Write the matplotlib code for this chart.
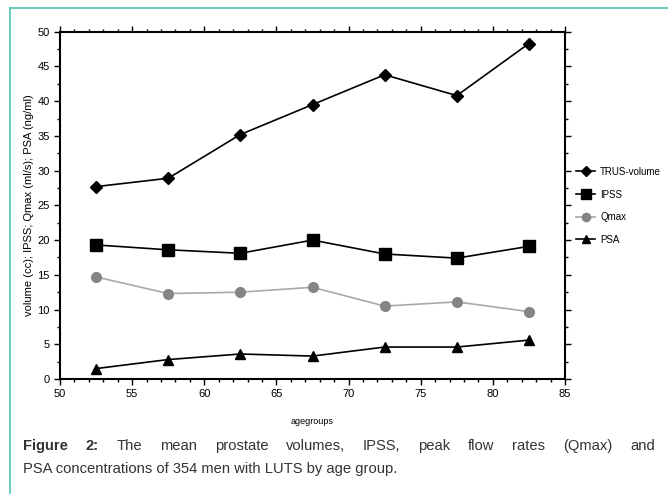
import matplotlib.pyplot as plt
from matplotlib.lines import Line2D
from matplotlib.ticker import MultipleLocator

plt.rcParams['font.family'] = ['Liberation Sans', 'DejaVu Sans']

# data
age = [52.5, 57.5, 62.5, 67.5, 72.5, 77.5, 82.5]
trus = [27.7, 28.9, 35.2, 39.5, 43.8, 40.8, 48.3]
ipss = [19.3, 18.6, 18.1, 20.0, 18.0, 17.4, 19.1]
qmax = [14.7, 12.3, 12.5, 13.2, 10.5, 11.1, 9.7]
psa = [1.5, 2.8, 3.6, 3.3, 4.6, 4.6, 5.6]

W, H = 668, 497
fig = plt.figure(figsize=(W / 100, H / 100), dpi=100)
ax = fig.add_axes([60 / W, 1 - 379 / H, 505 / W, 347.3 / H])

ax.plot(age, trus, color='black', lw=1.2, marker='D', ms=6.5, label='TRUS-volume')
ax.plot(age, ipss, color='black', lw=1.2, marker='s', ms=8, label='IPSS')
ax.plot(age, qmax, color='#a8a8a8', lw=1.2, marker='o', ms=7, mfc='#858585',
        mec='#858585', label='Qmax')
ax.plot(age, psa, color='black', lw=1.2, marker='^', ms=7, label='PSA')

ax.set_xlim(50, 85)
ax.set_ylim(0, 50)
ax.xaxis.set_major_locator(MultipleLocator(5))
ax.xaxis.set_minor_locator(MultipleLocator(1))
ax.yaxis.set_major_locator(MultipleLocator(5))
ax.yaxis.set_minor_locator(MultipleLocator(2.5))
ax.tick_params(which='both', direction='out', top=True, right=True,
               labeltop=False, labelright=False, labelsize=8, width=1)
ax.tick_params(which='major', length=4)
ax.tick_params(which='minor', length=2.5)
for s in ax.spines.values():
    s.set_linewidth(1.5)

ax.set_xlabel('agegroups', fontsize=6.5, labelpad=13)
ax.set_ylabel('volume (cc); IPSS; Qmax (ml/s); PSA (ng/ml)', fontsize=8, labelpad=2)

fig.legend(loc='upper left', bbox_to_anchor=(572 / W, 1 - 163 / H), frameon=False,
           fontsize=7, handlelength=2.0, handletextpad=0.5, labelspacing=1.3,
           borderaxespad=0, markerscale=0.85)

# teal frame
teal = '#5cc9b9'
fig.add_artist(Line2D([10 / W, 1], [1 - 8 / H, 1 - 8 / H], color=teal, lw=1.3))
fig.add_artist(Line2D([10 / W, 10 / W], [1 - 8 / H, 1 - 493 / H], color=teal, lw=1.3))

# caption, first line justified
cap_fs = 10.65
fig.canvas.draw()
r = fig.canvas.get_renderer()
words1 = [('Figure', 'bold'), ('2:', 'bold'), ('The', 'normal'), ('mean', 'normal'),
          ('prostate', 'normal'), ('volumes,', 'normal'), ('IPSS,', 'normal'),
          ('peak', 'normal'), ('flow', 'normal'), ('rates', 'normal'),
          ('(Qmax)', 'normal'), ('and', 'normal')]
x0, x1 = 23 / W, 655 / W
texts = []
widths = []
for w, fw in words1:
    t = fig.text(0, 1 - 450 / H, w, fontsize=cap_fs, fontweight=fw, color='#333333',
                 va='baseline')
    bb = t.get_window_extent(r)
    texts.append(t)
    widths.append(bb.width / W)
gap = (x1 - x0 - sum(widths)) / (len(words1) - 1)
x = x0
for t, wd in zip(texts, widths):
    t.set_x(x)
    x += wd + gap
fig.text(x0, 1 - 473 / H, 'PSA concentrations of 354 men with LUTS by age group.',
         fontsize=cap_fs, color='#333333', va='baseline')

fig.savefig('out.png', dpi=100)
